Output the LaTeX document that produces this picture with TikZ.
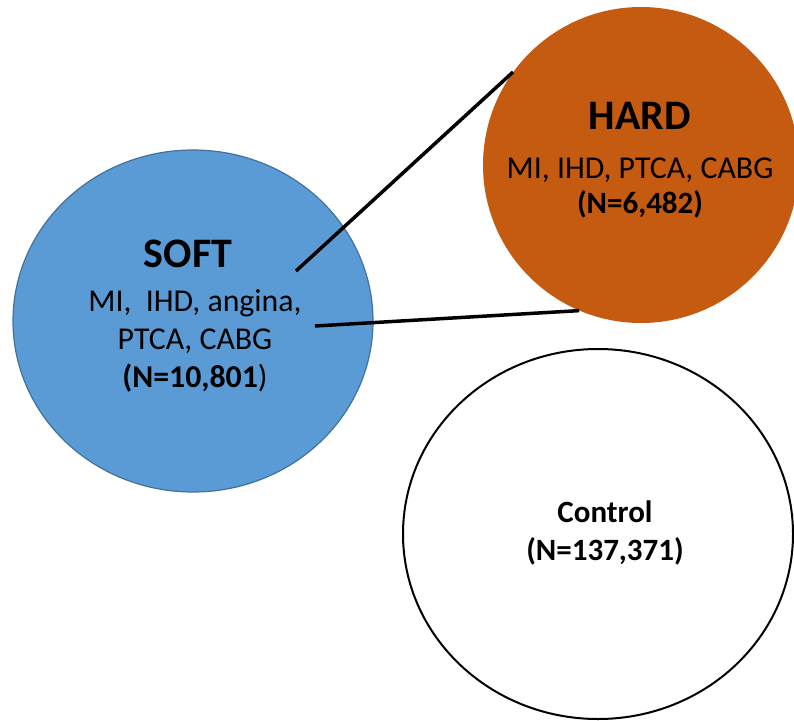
\documentclass[tikz,border=0pt]{standalone}
\usepackage{fontspec}
\setmainfont{Carlito}
\usetikzlibrary{shapes.geometric}
\usetikzlibrary{positioning}
\definecolor{softblue}{HTML}{5B9BD5}
\definecolor{softedge}{HTML}{41719C}
\definecolor{hardorange}{HTML}{C55A11}
\tikzstyle{group}=[ellipse, inner sep=0pt]
\tikzstyle{softgrp}=[group, draw=softedge, line width=1.2pt, fill=softblue]
\tikzstyle{hardgrp}=[group, fill=hardorange]
\tikzstyle{ctrlgrp}=[group, draw=black, line width=2pt, fill=white]
\tikzstyle{title}=[font=\fontsize{42}{50}\selectfont\bfseries, anchor=base, inner sep=0pt]
\tikzstyle{body}=[font=\fontsize{31.8}{38}\selectfont, anchor=base, inner sep=0pt]
\tikzstyle{bodyb}=[body, font=\fontsize{31}{38}\selectfont\bfseries]
\tikzstyle{link}=[line width=3.5pt]

\begin{document}
\begin{tikzpicture}[x=1pt, y=-1pt]
    \useasboundingbox (0,0) rectangle (794,720);

    \node[softgrp, minimum width=360, minimum height=342] (soft) at (193,321) {};
    \node[title] (softT) at (188,267) {SOFT};
    \node[body] (softA) at (195,311) {MI,\ \ IHD, angina,};
    \node[body] (softB) at (195,349) {PTCA, CABG};
    \node[body] (softN) at (195,387) {\textbf{(N=10,801}) };

    \coordinate (s1) at (296,271);
    \coordinate (s2) at (315,326);
    \node[hardgrp, minimum width=316, minimum height=316] (hard) at (641,165) {};
    \draw[link] (s1) -- (hard.144);
    \draw[link] (s2) -- (hard.247);

    \node[title] (hardT) at (640,129) {HARD};
    \node[body] (hardA) at (640,178) {MI, IHD, PTCA, CABG};
    \node[bodyb] (hardN) at (640,213) {(N=6,482)};

    \node[ctrlgrp, minimum width=390, minimum height=370] (ctrl) at (598,534) {};
    \node[bodyb] (ctrlT) at (605,522) {Control};
    \node[bodyb] (ctrlN) at (605,560) {(N=137,371)};

\end{tikzpicture}
\end{document}
